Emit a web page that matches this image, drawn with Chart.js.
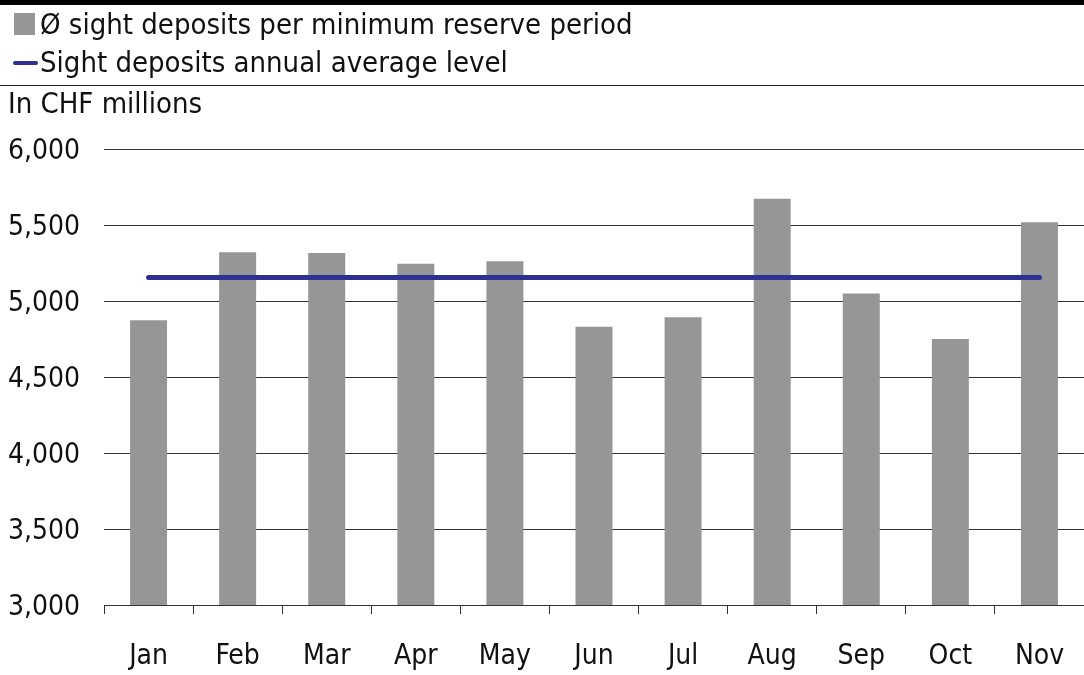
<!DOCTYPE html>
<html>
<head>
<meta charset="utf-8">
<script src="https://cdn.jsdelivr.net/npm/chart.js@4.4.1/dist/chart.umd.min.js"></script>
<style>
  html, body { margin: 0; padding: 0; background: #fff; }
  body { width: 1084px; height: 675px; position: relative; overflow: hidden;
         font-family: "DejaVu Sans Condensed", "DejaVu Sans", sans-serif; color: #111; }
  #topbar { position: absolute; left: 0; top: 0; width: 1084px; height: 5px; background: #000; }
  #rule { position: absolute; left: 0; top: 85px; width: 1084px; height: 1px; background: #222; }
  .leg { position: absolute; left: 40px; font-size: 29px; line-height: 30px; white-space: nowrap; }
  #sw1 { position: absolute; left: 14px; top: 13px; width: 21px; height: 22px; background: #969696; }
  #sw2 { position: absolute; left: 13px; top: 61px; width: 25px; height: 4px; background: #2e3192; border-radius: 2px; }
  #unit { position: absolute; left: 8px; top: 88px; font-size: 29px; line-height: 30px; }
  #wrap { position: absolute; left: 0; top: 0; width: 1084px; height: 675px; }
</style>
</head>
<body>
<div id="wrap"><canvas id="chart"></canvas></div>
<div id="topbar"></div>
<div id="sw1"></div>
<div class="leg" style="top:9px">Ø sight deposits per minimum reserve period</div>
<div id="sw2"></div>
<div class="leg" style="top:47px">Sight deposits annual average level</div>
<div id="rule"></div>
<div id="unit">In CHF millions</div>
<script>
let months = ["Jan", "Feb", "Mar", "Apr", "May", "Jun", "Jul", "Aug", "Sep", "Oct", "Nov"];
let sightDeposits = [4873, 5320, 5315, 5245, 5262, 4830, 4893, 5672, 5050, 4750, 5518];
let annualAverage = [5155, 5155, 5155, 5155, 5155, 5155, 5155, 5155, 5155, 5155, 5155];
let yTicks = [3000, 3500, 4000, 4500, 5000, 5500, 6000];

let font = { family: "'DejaVu Sans Condensed', 'DejaVu Sans', sans-serif", size: 28 };

const data = {
    labels: months,
    datasets: [
        {
            type: "line",
            label: "Sight deposits annual average level",
            data: annualAverage,
            borderColor: "#2e3192",
            backgroundColor: "#2e3192",
            borderWidth: 5,
            borderCapStyle: "round",
            pointRadius: 0,
            order: 0
        },
        {
            type: "bar",
            label: "Ø sight deposits per minimum reserve period",
            data: sightDeposits,
            backgroundColor: "#969696",
            categoryPercentage: 1,
            barPercentage: 0.415,
            order: 1
        }
    ]
};

const config = {
    data: data,
    options: {
        responsive: false,
        animation: false,
        layout: { padding: { top: 149, right: 0, left: 0, bottom: 0 } },
        plugins: { legend: { display: false }, tooltip: { enabled: false } },
        scales: {
            x: {
                grid: { display: true, drawOnChartArea: false, drawTicks: true, tickLength: 9, color: "#333", offset: true },
                border: { display: true, color: "#333", width: 1 },
                ticks: { color: "#111", font: font, padding: 26 },
                afterFit: function(scale) {
                    scale.height = 70;
                    scale.paddingLeft = 0;
                    scale.paddingRight = 0;
                }
            },
            y: {
                min: 3000,
                max: 6000,
                afterBuildTicks: function(scale) { scale.ticks = yTicks.map(v => ({ value: v })); },
                grid: { color: "#333", drawTicks: false, lineWidth: 1 },
                border: { display: false },
                ticks: {
                    color: "#111", font: font, padding: 24, labelOffset: 3,
                    callback: v => v.toLocaleString("en-US")
                },
                afterFit: function(scale) { scale.width = 104; }
            }
        }
    }
};

const canvas = document.getElementById("chart");
canvas.width = 1084;
canvas.height = 675;
new Chart(canvas, config);
</script>
</body>
</html>
